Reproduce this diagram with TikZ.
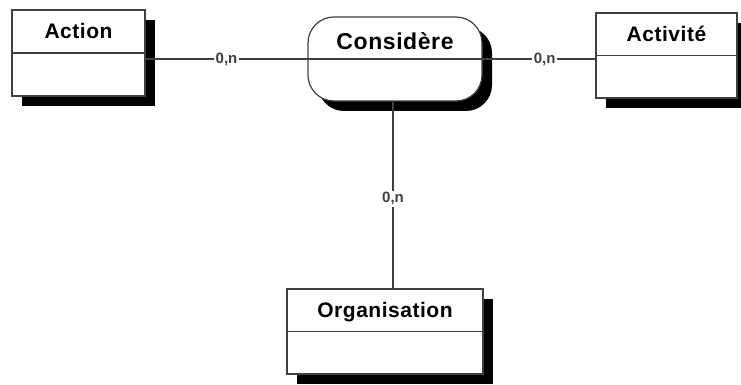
\documentclass[tikz,border=0pt]{standalone}
\usepackage{fontspec}
\setmainfont{Liberation Sans}
\newfontfamily\namefont[LetterSpace=2.5]{Liberation Sans}
\usepackage{tikz}
\usetikzlibrary{calc,positioning,shapes,shadows}
\tikzstyle{entity} = [rectangle, draw=black!75, line width=1.2pt, fill=white,
  general shadow={fill=black, shadow xshift=10pt, shadow yshift=-10pt}]
\tikzstyle{assoc} = [entity, rounded corners=26pt]
\tikzstyle{entname} = [font=\namefont\fontsize{21}{25}\selectfont\bfseries, text height=15pt, text depth=0pt, inner sep=0pt]
\tikzstyle{card} = [fill=white, inner sep=1.5pt, font=\fontsize{15}{17}\selectfont\bfseries]
\tikzstyle{link} = [draw, black!75, line width=1.2pt]
\tikzstyle{divider} = [draw, black!75, line width=1.2pt]

\begin{document}
\begin{tikzpicture}[x=1pt, y=-1pt]
    \useasboundingbox (0,0) rectangle (741,385);
    % Entities
    \node [entity, minimum width=133pt, minimum height=86pt] (action) at (78.5,53) {};
    \node [entity, minimum width=141pt, minimum height=85pt] (activite) at (666.5,55.5) {};
    \node [entity, minimum width=196pt, minimum height=85pt] (organisation) at (385,331.5) {};
    % Association
    \node [assoc, minimum width=174pt, minimum height=84pt] (considere) at (395,59) {};
    % Names
    \node [entname] (actionname) at ($(action.north)!0.25!(action.south)$) {Action};
    \node [entname] (activitename) at ($(activite.north)!0.25!(activite.south)$) {Activité};
    \node [entname] (organisationname) at ($(organisation.north)!0.25!(organisation.south)$) {Organisation};
    \node [entname, font=\namefont\fontsize{23}{27}\selectfont\bfseries, text height=16.5pt] (considerename)
      at ($(considere.north)!0.29!(considere.south)$) {Considère};
    % Dividers
    \path [divider] (action.west) -- (action.east);
    \path [divider] (activite.west) -- (activite.east);
    \path [divider] (organisation.west) -- (organisation.east);
    \path [divider] (considere.west) -- (considere.east);
    % Lines
    \path [link] (considere.west -| action.east) -- node [card] {0,n} (considere.west);
    \path [link] (considere.east) -- node [card, pos=0.55] {0,n} (considere.east -| activite.west);
    \path [link] ([xshift=-2pt]considere.south) -- node [card, pos=0.52] {0,n} ([xshift=-2pt]considere.south |- organisation.north);
\end{tikzpicture}
\end{document}
